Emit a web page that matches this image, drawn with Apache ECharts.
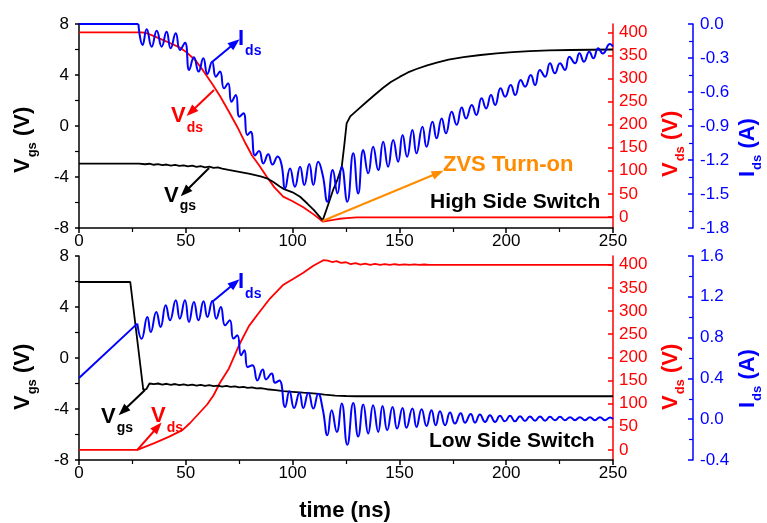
<!DOCTYPE html>
<html><head><meta charset="utf-8">
<script src="https://cdn.jsdelivr.net/npm/echarts@6/dist/echarts.min.js"></script>
<style>html,body{margin:0;padding:0;background:#fff}#c{width:767px;height:523px}</style>
</head><body><div id="c"></div><script>
// ---------- DATA (time in ns) ----------
const timeTicks = [0, 50, 100, 150, 200, 250];
const vdsTicks = [0, 50, 100, 150, 200, 250, 300, 350, 400];

// High side switch
const hsVgs = [[0,-2.95],[28,-2.95],[31,-3.0],[33,-2.96],[35,-3.04],[37,-2.99],[39,-3.07],[41,-3.02],[43,-3.1],[45,-3.05],[47,-3.13],[49,-3.08],[51,-3.16],[53,-3.11],[55,-3.2],[57,-3.15],[59,-3.24],[61,-3.19],[63,-3.28],[65,-3.25],[67,-3.35],[70,-3.45],[75,-3.6],[80,-3.76],[85,-3.95],[88,-4.1],[91,-4.4],[94,-4.75],[96,-4.95],[100,-5.2],[103.5,-5.55],[107,-6.1],[110,-6.6],[114.1,-7.4],[117,-6.0],[119,-5.0],[121,-4.2],[123,-3.2],[124.2,-1.5],[125.3,0.2],[127,0.75],[130,1.2],[134.7,1.9],[138.5,2.45],[142.4,3.0],[146,3.45],[150.3,3.87],[154,4.2],[158,4.47],[163,4.75],[167.5,4.97],[173,5.2],[180,5.4],[188,5.57],[195.5,5.7],[203,5.8],[211,5.88],[220,5.93],[230,5.96],[240,5.98],[250,6.0]];
const hsVds = [[0,400],[28.9,400],[31,399],[34,394],[38.9,384],[42,378],[46.8,368],[50,358],[54.6,339],[58,318],[62.4,288],[66,262],[70.2,228],[74,196],[78,159],[81,133],[84.3,112],[87.9,87],[91.5,64],[95.6,44],[100,34],[105,21],[110,5],[114.1,-10],[119,-6.5],[122,-4],[125.3,-2.5],[130,-1],[250,-1]];
const hsIdsFlat = [[0,0],[27.8,0]];
const hsIds = [[27.8,0],[29.8,-0.185],[31.7,-0.047],[34,-0.2],[36.4,-0.059],[38.7,-0.2],[41,-0.068],[42.9,-0.215],[45.3,-0.082],[47.3,-0.23],[49.6,-0.165],[51.6,-0.406],[53.8,-0.294],[56,-0.42],[58.2,-0.303],[60.1,-0.441],[62.3,-0.332],[64.1,-0.465],[66,-0.42],[67.9,-0.568],[69.8,-0.523],[71.4,-0.686],[73.4,-0.627],[75.1,-0.818],[77,-0.788],[78.8,-0.98],[80.4,-0.95],[82.4,-1.16],[84.3,-1.12],[86.3,-1.23],[88.6,-1.15],[90.6,-1.24],[93,-1.17],[94.8,-1.24],[96.5,-1.45],[98.8,-1.274],[101.1,-1.436],[103.5,-1.259],[105.5,-1.421],[107.8,-1.236],[109.7,-1.421],[112,-1.215],[114.1,-1.333],[116.3,-1.568],[118.8,-1.289],[121,-1.495],[123,-1.259],[125.6,-1.568],[128.4,-1.141],[130.7,-1.495],[133.1,-1.112],[135.4,-1.318],[137.7,-1.083],[140.1,-1.289],[142.4,-1.039],[144.7,-1.259],[147.1,-1.024],[149.4,-1.215],[151.5,-0.98],[153.6,-1.171],[156.1,-0.936],[158,-1.141],[160.8,-0.906],[162.7,-1.083],[165.5,-0.862],[167.4,-1.009],[169.8,-0.833],[171.8,-0.965],[174.5,-0.774],[176.8,-0.89],[179.2,-0.736],[181.2,-0.833],[183.9,-0.715],[186,-0.803],[188.5,-0.656],[190.6,-0.745],[192.9,-0.627],[194.8,-0.715],[197.4,-0.568],[199.5,-0.642],[202.1,-0.539],[204.2,-0.627],[206.8,-0.495],[208.8,-0.553],[211.5,-0.45],[213.5,-0.539],[215.8,-0.406],[218.2,-0.465],[220.5,-0.347],[222.8,-0.435],[225.2,-0.347],[227.5,-0.406],[229.6,-0.288],[232.2,-0.347],[234.3,-0.259],[236.4,-0.332],[238.9,-0.244],[240.8,-0.303],[243.1,-0.215],[245.2,-0.26],[248.6,-0.177],[250,-0.2]];

// Low side switch
const lsVgs = [[0,5.96],[24,5.96],[30.1,-2.5],[31.5,-2.45],[33,-2.0],[35,-2.05],[37,-2.0],[39,-2.08],[41,-2.02],[43,-2.1],[45,-2.04],[47,-2.12],[49,-2.06],[51,-2.14],[53,-2.08],[55,-2.16],[57,-2.1],[59,-2.18],[61,-2.13],[63,-2.21],[65,-2.16],[67,-2.24],[69,-2.19],[71,-2.27],[73,-2.22],[75,-2.3],[77,-2.26],[79,-2.34],[81,-2.3],[83,-2.38],[85,-2.36],[88,-2.45],[92,-2.52],[95.7,-2.6],[100,-2.65],[105,-2.72],[111,-2.8],[115,-2.88],[120,-2.95],[125,-2.98],[130,-3.0],[250,-3.0]];
const lsVds = [[0,0],[27.3,0],[35,14],[42,28],[48.4,42.5],[52,58],[56,78],[60,98],[63,118],[66,145],[70.2,176],[74.9,226],[79.6,268],[84.5,298],[89.4,327],[95.7,357],[100.4,370],[105,383],[109.7,398],[114.4,410],[116.5,409],[118.5,406],[120.5,408],[122.7,404],[125,405.5],[127.2,401.5],[129.5,403.5],[131.8,400.5],[134,402.5],[136.3,399.8],[138.6,401.8],[140.9,399.6],[143.2,401.5],[145.5,399.6],[147.8,401.2],[150.1,399.7],[152.4,401],[154.7,399.8],[157,400.8],[159.3,399.8],[161.6,400.6],[164,400],[250,400]];
const lsIdsRamp = [[0,0.404],[27.3,0.937]];
const lsIds = [[27.3,0.937],[29.3,0.789],[32,1.002],[33.6,0.855],[36.2,1.051],[38.2,0.904],[40.6,1.116],[42.6,0.97],[45.3,1.166],[47.2,0.986],[49.6,1.166],[51.5,0.953],[53.8,1.15],[55.9,0.97],[58.3,1.156],[60.1,1.002],[62.4,1.16],[64.3,0.986],[66.4,1.1],[68.4,0.92],[70.6,0.97],[72.3,0.79],[74.1,0.822],[75.9,0.626],[77.4,0.675],[79,0.51],[81.2,0.53],[83.5,0.38],[86,0.488],[87.6,0.39],[90.2,0.447],[91.8,0.358],[93.8,0.38],[96.5,0.12],[98.5,0.273],[100.7,0.11],[103.2,0.26],[105,0.11],[107.4,0.26],[109.7,0.104],[112,0.25],[114.1,0.1],[116.3,-0.158],[118.3,0.087],[120.7,-0.125],[123,0.153],[125.6,-0.25],[128.4,0.16],[130.7,-0.17],[133.1,0.143],[135.4,-0.14],[137.7,0.137],[140.1,-0.125],[142.1,0.13],[144.3,-0.108],[146.8,0.12],[148.9,-0.092],[151.5,0.111],[153.3,-0.085],[156.1,0.104],[158,-0.076],[160.4,0.098],[162.7,-0.066],[165,0.087],[167,-0.06],[169,0.078],[171.4,-0.06],[173.7,0.065],[176,-0.043],[178.7,0.059],[180.7,-0.034],[183.4,0.052],[185.4,-0.034],[187.7,0.046],[190.1,-0.027],[192.4,0.039],[194.8,-0.027],[197.1,0.033],[199.4,-0.021],[201.8,0.033],[204.1,-0.021],[206.5,0.03],[208.8,-0.017],[211.1,0.026],[213.5,-0.014],[215.8,0.026],[218.2,-0.014],[220.5,0.023],[222.8,-0.01],[225.2,0.023],[227.5,-0.01],[229.9,0.02],[232.2,-0.01],[234.5,0.02],[236.9,-0.01],[239.2,0.02],[241.5,-0.01],[243.9,0.02],[246.2,-0.01],[248.6,0.016],[250,0.0]];

// annotation arrows in data units (time, Vgs)
const hsArrows = [
  {from:[62.3,5.02], to:[73.0,6.51], color:'#0000ff'},
  {from:[63.2,2.82], to:[52.4,1.10], color:'#ff0000'},
  {from:[60.9,-3.29], to:[49.6,-5.18], color:'#000000'},
  {from:[114.0,-7.45], to:[168.1,-3.69], color:'#ff8c00'}
];
const lsArrows = [
  {from:[62.3,4.39], to:[73.0,5.88], color:'#0000ff'},
  {from:[30.9,-2.51], to:[20.6,-4.16], color:'#000000'},
  {from:[27.2,-7.22], to:[36.8,-5.41], color:'#ff0000'}
];

// ---------- CHART ----------
const FONT = 'Arial, "Liberation Sans", sans-serif';
const BLUE = '#0000ff', RED = '#ff0000', BLACK = '#000000', ORANGE = '#ff8c00';
const chart = echarts.init(document.getElementById('c'), null, {renderer: 'canvas'});

const mctx = document.createElement('canvas').getContext('2d');
function tw(t, size) { mctx.font = 'bold ' + size + 'px ' + FONT; return mctx.measureText(t).width; }
function txt(x, y, text, color, size, align) {
  return {type: 'text', x: x, y: y, silent: true, style: {
    text: text, fill: color, font: 'bold ' + size + 'px ' + FONT,
    align: align || 'left', verticalAlign: 'middle', textAlign: align || 'left', textVerticalAlign: 'middle'}};
}
function subLabel(x, yc, main, sub, color, drop) {
  const size = 22, ss = 14;
  return [txt(x, yc, main, color, size), txt(x + tw(main, size) + 1, yc + drop, sub, color, ss)];
}
function rotTitle(bx, by, main, sub, tail, color) {
  const size = 22, ss = 13;
  const w1 = tw(main, size), w2 = tw(sub, ss), sp = tw(' ', size);
  return {type: 'group', x: bx, y: by, rotation: Math.PI / 2, silent: true, children: [
    txt(0, -0.33 * size, main, color, size),
    txt(w1 + 1, 7 - 0.33 * ss, sub, color, ss),
    txt(w1 + 1 + w2 + sp, -0.33 * size, tail, color, size)
  ]};
}

function xAxisCfg(gi) {
  return {type: 'value', gridIndex: gi, min: 0, max: 250, interval: 50,
    axisLine: {show: true, onZero: false, lineStyle: {color: BLACK, width: 1.5}},
    axisTick: {show: true, length: 5, lineStyle: {color: BLACK, width: 1.5}},
    minorTick: {show: true, splitNumber: 2, length: 4, lineStyle: {color: BLACK, width: 1.2}},
    axisLabel: {color: BLACK, fontSize: 17, fontFamily: FONT, margin: 5,
      customValues: timeTicks},
    splitLine: {show: false}};
}
function vgsAxis(gi) {
  return {type: 'value', gridIndex: gi, position: 'left', min: -8, max: 8, interval: 4,
    axisLine: {show: true, onZero: false, lineStyle: {color: BLACK, width: 1.5}},
    axisTick: {show: true, length: 4, lineStyle: {color: BLACK, width: 1.5}},
    minorTick: {show: true, splitNumber: 2, length: 4, lineStyle: {color: BLACK, width: 1.2}},
    axisLabel: {color: BLACK, fontSize: 17, fontFamily: FONT, margin: 10},
    splitLine: {show: false}};
}
function vdsAxis(gi, mn, mx) {
  return {type: 'value', gridIndex: gi, position: 'right', offset: 0, min: mn, max: mx,
    axisLine: {show: true, onZero: false, lineStyle: {color: RED, width: 1.5}},
    axisTick: {show: true, inside: true, length: 5, customValues: vdsTicks, lineStyle: {color: RED, width: 1.5}},
    axisLabel: {color: RED, fontSize: 17, fontFamily: FONT, margin: 6, customValues: vdsTicks},
    splitLine: {show: false}};
}
function idsAxis(gi, mn, mx, iv) {
  return {type: 'value', gridIndex: gi, position: 'right', offset: 80, min: mn, max: mx, interval: iv,
    axisLine: {show: true, onZero: false, lineStyle: {color: BLUE, width: 1.5}},
    axisTick: {show: true, inside: true, length: 5, lineStyle: {color: BLUE, width: 1.5}},
    minorTick: {show: true, splitNumber: 2, length: 4, lineStyle: {color: BLUE, width: 1.2}},
    axisLabel: {color: BLUE, fontSize: 17, fontFamily: FONT, margin: 7,
      formatter: v => (Math.abs(v) < 1e-9 ? 0 : v).toFixed(1)},
    splitLine: {show: false}};
}
function arrowsML(list) {
  return {silent: true, symbol: ['none', 'triangle'], symbolSize: [9, 12], label: {show: false},
    emphasis: {disabled: true}, animation: false,
    lineStyle: {width: 2, type: 'solid'},
    data: list.map(a => [
      {coord: a.from, lineStyle: {color: a.color, width: 2, type: 'solid'}, itemStyle: {color: a.color}},
      {coord: a.to, lineStyle: {color: a.color, width: 2, type: 'solid'}, itemStyle: {color: a.color}}
    ])};
}
function line(data, xi, yi, color, width, smooth, ml) {
  const s = {type: 'line', data: data, xAxisIndex: xi, yAxisIndex: yi, symbol: 'none',
    showSymbol: false, smooth: smooth, lineStyle: {color: color, width: width}, itemStyle: {color: color},
    emphasis: {disabled: true}, silent: true};
  if (ml) s.markLine = ml;
  return s;
}

const option = {
  animation: false,
  backgroundColor: '#ffffff',
  grid: [
    {left: 79, top: 24, width: 534, height: 204, show: false},
    {left: 79, top: 256, width: 534, height: 204, show: false}
  ],
  xAxis: [xAxisCfg(0), xAxisCfg(1)],
  yAxis: [
    vgsAxis(0), vdsAxis(0, -24, 418), idsAxis(0, -1.8, 0, 0.3),
    vgsAxis(1), vdsAxis(1, -22, 419), idsAxis(1, -0.4, 1.6, 0.4)
  ],
  series: [
    line(hsVds, 0, 1, RED, 1.8, false),
    line(hsVgs, 0, 0, BLACK, 1.8, false, arrowsML(hsArrows)),
    line(hsIdsFlat, 0, 2, BLUE, 2, false),
    line(hsIds, 0, 2, BLUE, 2, 0.5),
    line(lsVds, 1, 4, RED, 1.8, false),
    line(lsVgs, 1, 3, BLACK, 1.8, false, arrowsML(lsArrows)),
    line(lsIdsRamp, 1, 5, BLUE, 2, false),
    line(lsIds, 1, 5, BLUE, 2, 0.5)
  ],
  graphic: [
    // axis titles
    rotTitle(30, 173, 'V', 'gs', '(V)', BLACK),
    rotTitle(678, 177, 'V', 'ds', '(V)', RED),
    rotTitle(755, 177, 'I', 'ds', '(A)', BLUE),
    rotTitle(30, 410, 'V', 'gs', '(V)', BLACK),
    rotTitle(678, 410, 'V', 'ds', '(V)', RED),
    rotTitle(755, 408, 'I', 'ds', '(A)', BLUE),
    txt(345, 511, 'time (ns)', BLACK, 22, 'center'),
    // annotations top
    ...subLabel(238, 39, 'I', 'ds', BLUE, 12),
    ...subLabel(171, 115.5, 'V', 'ds', RED, 13),
    ...subLabel(164, 195.5, 'V', 'gs', BLACK, 11),
    txt(443, 165, 'ZVS Turn-on', ORANGE, 22),
    txt(430, 202.5, 'High Side Switch', BLACK, 21),
    // annotations bottom
    ...subLabel(238, 282, 'I', 'ds', BLUE, 12),
    ...subLabel(101, 417, 'V', 'gs', BLACK, 11),
    ...subLabel(151, 416, 'V', 'ds', RED, 12),
    txt(429, 441, 'Low Side Switch', BLACK, 21)
  ]
};
chart.setOption(option);
</script></body></html>
